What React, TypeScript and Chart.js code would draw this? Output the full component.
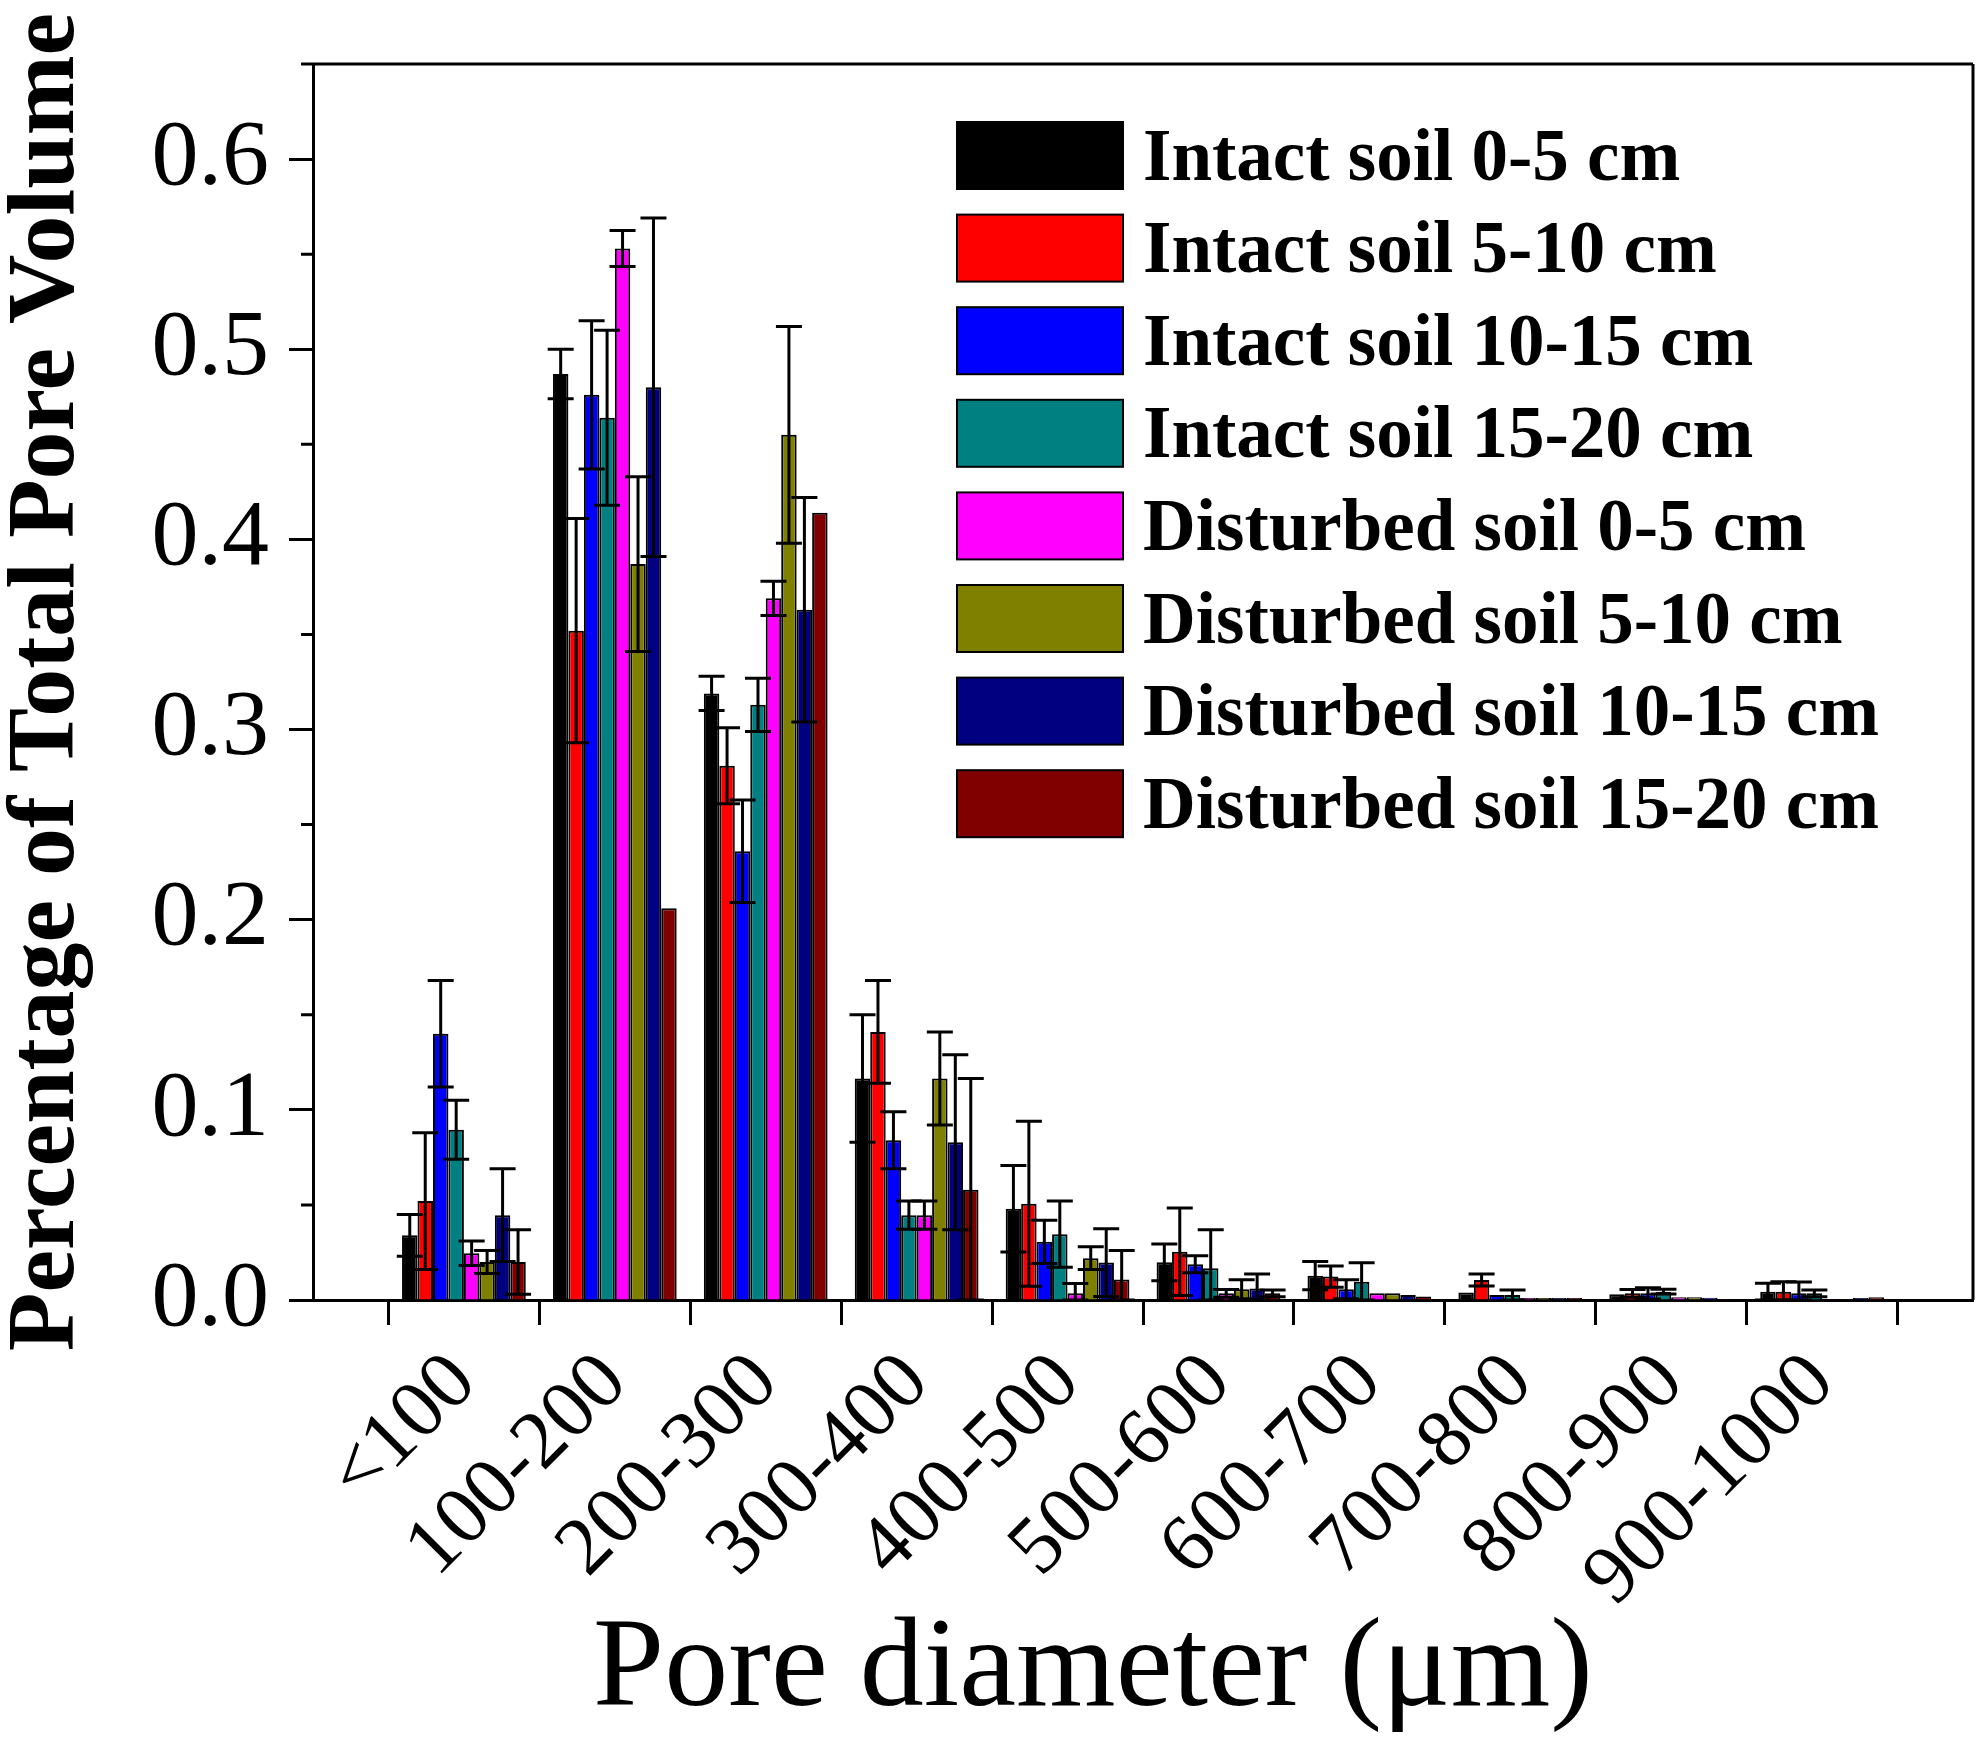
import React, { useEffect, useRef } from "react";
import { Chart, registerables } from "chart.js";

Chart.register(...registerables);

const CATEGORIES = ["<100", "100-200", "200-300", "300-400", "400-500", "500-600", "600-700", "700-800", "800-900", "900-1000"];

const SERIES_NAMES = [
  "Intact soil 0-5 cm",
  "Intact soil 5-10 cm",
  "Intact soil 10-15 cm",
  "Intact soil 15-20 cm",
  "Disturbed soil 0-5 cm",
  "Disturbed soil 5-10 cm",
  "Disturbed soil 10-15 cm",
  "Disturbed soil 15-20 cm",
];

const SERIES_COLORS = ["#000000", "#FF0000", "#0000FF", "#008080", "#FF00FF", "#808000", "#000080", "#800000"];

const intact0_5 = [0.034, 0.487, 0.319, 0.1165, 0.048, 0.0198, 0.0128, 0.0039, 0.003, 0.0044];
const intact5_10 = [0.052, 0.352, 0.281, 0.141, 0.0506, 0.0254, 0.0123, 0.0105, 0.0035, 0.0044];
const intact10_15 = [0.14, 0.476, 0.236, 0.084, 0.0306, 0.0188, 0.0056, 0.0026, 0.0035, 0.0035];
const intact15_20 = [0.0895, 0.464, 0.313, 0.0446, 0.0346, 0.0167, 0.0096, 0.0026, 0.0044, 0.0035];
const disturbed0_5 = [0.0246, 0.553, 0.369, 0.0446, 0.0035, 0.0035, 0.0035, 0.001, 0.0014, 0.0004];
const disturbed5_10 = [0.02, 0.387, 0.455, 0.1165, 0.022, 0.0056, 0.0035, 0.001, 0.0014, 0.0004];
const disturbed10_15 = [0.0446, 0.48, 0.363, 0.083, 0.0197, 0.006, 0.0026, 0.001, 0.0012, 0.001];
const disturbed15_20 = [0.02, 0.206, 0.414, 0.058, 0.0108, 0.0035, 0.0018, 0.001, 0.0005, 0.0014];

const errIntact0_5 = [0.011, 0.013, 0.009, 0.0335, 0.0227, 0.0097, 0.0074, 0, 0, 0.0044];
const errIntact5_10 = [0.036, 0.059, 0.02, 0.027, 0.0434, 0.023, 0.0056, 0.0032, 0.002, 0.0052];
const errIntact10_15 = [0.028, 0.039, 0.027, 0.015, 0.0114, 0.0045, 0.005, 0, 0.003, 0.006];
const errIntact15_20 = [0.0155, 0.046, 0.014, 0.0074, 0.0174, 0.0203, 0.01, 0.0027, 0.0012, 0.0018];
const errDisturbed0_5 = [0.0064, 0.0095, 0.009, 0.0074, 0.0052, 0.002, 0, 0, 0, 0];
const errDisturbed5_10 = [0.006, 0.046, 0.057, 0.0245, 0.006, 0.005, 0, 0, 0, 0];
const errDisturbed10_15 = [0.0244, 0.089, 0.059, 0.046, 0.0178, 0.0077, 0, 0, 0, 0];
const errDisturbed15_20 = [0.017, 0, 0, 0.0585, 0.0152, 0.0018, 0, 0, 0, 0];

const SERIES_VALUES = [intact0_5, intact5_10, intact10_15, intact15_20, disturbed0_5, disturbed5_10, disturbed10_15, disturbed15_20];
const SERIES_ERRORS = [errIntact0_5, errIntact5_10, errIntact10_15, errIntact15_20, errDisturbed0_5, errDisturbed5_10, errDisturbed10_15, errDisturbed15_20];

const Y_MINOR_TICKS = [0.05, 0.15, 0.25, 0.35, 0.45, 0.55, 0.65];

const X_TITLE = "Pore diameter (\u03bcm)";
const Y_TITLE = "Percentage of Total Pore Volume";

const SERIF = '"Liberation Serif", "Times New Roman", serif';

const W = 1983;
const H = 1744;

const errorBarPlugin = {
  id: "errorBars",
  afterDatasetsDraw(chart: any) {
    const ctx = chart.ctx;
    const yScale = chart.scales.y;
    ctx.save();
    ctx.strokeStyle = "#000";
    ctx.lineWidth = 3;
    chart.data.datasets.forEach((ds: any, di: number) => {
      const meta = chart.getDatasetMeta(di);
      const errs = SERIES_ERRORS[di];
      const vals = SERIES_VALUES[di];
      meta.data.forEach((bar: any, idx: number) => {
        const ci = idx - 1;
        if (ci < 0 || ci >= vals.length) return;
        const e = errs[ci];
        if (!e) return;
        const v = vals[ci];
        const yTop = yScale.getPixelForValue(v + e);
        const yBot = Math.min(yScale.getPixelForValue(Math.max(v - e, 0)), chart.chartArea.bottom);
        const x = bar.x;
        const cap = 13;
        ctx.beginPath();
        ctx.moveTo(x, yTop);
        ctx.lineTo(x, yBot);
        ctx.moveTo(x - cap, yTop);
        ctx.lineTo(x + cap, yTop);
        ctx.moveTo(x - cap, yBot);
        ctx.lineTo(x + cap, yBot);
        ctx.stroke();
      });
    });
    ctx.restore();
  },
};

const decorPlugin = {
  id: "decor",
  afterDraw(chart: any) {
    const ctx = chart.ctx;
    const { left, right, top, bottom } = chart.chartArea;
    const yScale = chart.scales.y;
    ctx.save();
    ctx.strokeStyle = "#000";
    ctx.lineWidth = 3;
    // frame top and right
    ctx.beginPath();
    ctx.moveTo(left, top);
    ctx.lineTo(right, top);
    ctx.moveTo(right, top);
    ctx.lineTo(right, bottom);
    ctx.stroke();
    // minor y ticks
    ctx.beginPath();
    Y_MINOR_TICKS.forEach((v) => {
      const y = yScale.getPixelForValue(v);
      ctx.moveTo(left - 12, y);
      ctx.lineTo(left, y);
    });
    ctx.stroke();

    // legend
    const boxX = 957;
    const boxW = 166;
    const boxH = 67;
    const firstCenter = 155.5;
    const rowStep = 92.6;
    ctx.font = `bold 73px ${SERIF}`;
    ctx.textAlign = "left";
    ctx.textBaseline = "alphabetic";
    chart.data.datasets.forEach((ds: any, i: number) => {
      const cy = firstCenter + i * rowStep;
      ctx.fillStyle = ds.backgroundColor;
      ctx.fillRect(boxX, cy - boxH / 2, boxW, boxH);
      ctx.lineWidth = 2;
      ctx.strokeStyle = "#000";
      ctx.strokeRect(boxX, cy - boxH / 2, boxW, boxH);
      ctx.fillStyle = "#000";
      ctx.fillText(ds.label, 1143, cy + 24);
    });

    // x axis title
    ctx.font = `128px ${SERIF}`;
    ctx.textAlign = "center";
    ctx.textBaseline = "alphabetic";
    ctx.fillStyle = "#000";
    ctx.fillText(X_TITLE, 1093, 1705);
    ctx.restore();
  },
};

export default function App() {
  const canvasRef = useRef<HTMLCanvasElement | null>(null);

  useEffect(() => {
    if (!canvasRef.current) return;
    const labels = ["", ...CATEGORIES, ""];
    const datasets = SERIES_NAMES.map((name, i) => ({
      label: name,
      data: [null, ...SERIES_VALUES[i], null],
      backgroundColor: SERIES_COLORS[i],
      borderColor: "#000000",
      borderWidth: 2,
      categoryPercentage: 0.82,
      barPercentage: 1.0,
    }));

    const chart = new Chart(canvasRef.current, {
      type: "bar",
      data: { labels, datasets },
      options: {
        animation: false,
        responsive: false,
        devicePixelRatio: 1,
        layout: { padding: { left: 0, top: 64, right: 10, bottom: 0 } },
        plugins: {
          legend: { display: false },
          tooltip: { enabled: false },
        },
        scales: {
          x: {
            type: "category",
            offset: false,
            afterFit: (scale: any) => {
              scale.height = H - 1300;
              scale.paddingLeft = 0;
              scale.paddingRight = 0;
            },
            grid: {
              drawOnChartArea: false,
              drawTicks: true,
              tickLength: 25,
              tickWidth: 3,
              tickColor: "#000",
            },
            border: { display: true, color: "#000", width: 3 },
            ticks: {
              autoSkip: false,
              minRotation: 45,
              maxRotation: 45,
              padding: 10,
              color: "#000",
              font: { family: SERIF, size: 82 },
            },
          },
          y: {
            type: "linear",
            min: 0,
            max: 0.65,
            afterFit: (scale: any) => {
              scale.width = 313;
              scale.paddingTop = 0;
              scale.paddingBottom = 0;
            },
            grid: {
              drawOnChartArea: false,
              drawTicks: true,
              tickLength: 24,
              tickWidth: 3,
              tickColor: "#000",
            },
            border: { display: true, color: "#000", width: 3 },
            ticks: {
              stepSize: 0.1,
              includeBounds: false,
              padding: 20,
              color: "#000",
              font: { family: SERIF, size: 94 },
              callback: (value: any) => Number(value).toFixed(1),
            },
            title: {
              display: true,
              text: Y_TITLE,
              color: "#000",
              padding: 0,
              font: { family: SERIF, size: 96, weight: "bold", lineHeight: 1 },
            },
          },
        },
      },
      plugins: [errorBarPlugin, decorPlugin],
    } as any);

    return () => {
      chart.destroy();
    };
  }, []);

  return (
    <div style={{ position: "absolute", left: 0, top: 0, width: W, height: H, background: "#fff" }}>
      <canvas ref={canvasRef} width={W} height={H} style={{ width: W, height: H, display: "block" }} />
    </div>
  );
}
